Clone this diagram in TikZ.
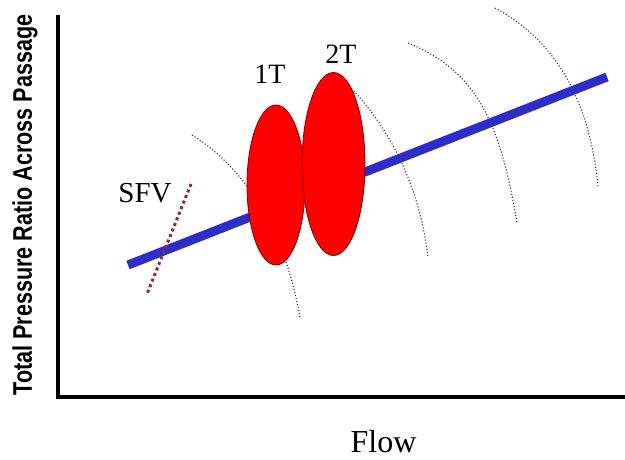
\documentclass[tikz,border=0pt]{standalone}
\usepackage{fontspec}
\usetikzlibrary{shapes.geometric}
\setmainfont{Liberation Serif}
\newfontfamily\labelsans{Liberation Sans}
\definecolor{lineblue}{RGB}{45,45,200}
\definecolor{sfvred}{RGB}{150,40,60}
\definecolor{ellred}{RGB}{255,0,0}
\definecolor{elledge}{RGB}{130,0,0}
\tikzset{
  axis/.style={line width=4pt, line cap=rect},
  flowcurve/.style={line width=1.1pt, dotted, black!80},
  rotor/.style={ellipse, draw=elledge, fill=ellred, line width=0.8pt, inner sep=0pt},
  lbl/.style={font=\fontsize{28}{30}\selectfont, inner sep=0pt, anchor=base}
}
\begin{document}
\begin{tikzpicture}[x=1pt,y=-1pt]
\useasboundingbox (0,0) rectangle (625,459);
% axes
\coordinate (top) at (58,17);
\coordinate (orig) at (58,397);
\coordinate (right) at (627,397);
\draw[axis] (top) -- (orig) -- (right);
% axis labels
\node[rotate=90, inner sep=0pt] (ylab) at (25,205)
  {\resizebox{381pt}{19.5pt}{\labelsans\bfseries\fontsize{20}{22}\selectfont Total Pressure Ratio Across Passage}};
\node[font=\fontsize{32}{34}\selectfont, inner sep=0pt, anchor=base] (xlab) at (383.5,452) {Flow};
% flow curves (dotted)
\coordinate (c1a) at (192,135); \coordinate (c1b) at (300,318);
\coordinate (c2a) at (345,82);  \coordinate (c2b) at (428,257);
\coordinate (c3a) at (408,43);  \coordinate (c3b) at (517,223);
\coordinate (c4a) at (495,8);   \coordinate (c4b) at (598,187);
\draw[flowcurve] (c1a) .. controls (245,168) and (285,230) .. (c1b);
\draw[flowcurve] (c2a) .. controls (392,128) and (420,190) .. (c2b);
\draw[flowcurve] (c3a) .. controls (475,70) and (500,120) .. (c3b);
\draw[flowcurve] (c4a) .. controls (555,40) and (590,100) .. (c4b);
% operating line
\coordinate (la) at (128,265);
\coordinate (lb) at (607,77);
\draw[lineblue, line width=9pt] (la) -- (lb);
% rotors
\node[rotor, minimum width=58pt, minimum height=160pt] (r1) at (276,185) {};
\node[rotor, minimum width=63pt, minimum height=183pt] (r2) at (333.5,164) {};
% SFV line
\coordinate (sa) at (191,184);
\coordinate (sb) at (147,294);
\draw[sfvred, line width=3pt, dash pattern=on 3pt off 3pt] (sa) -- (sb);
% labels
\node[lbl] (t1) at (270,83) {1T};
\node[lbl] (t2) at (341,63) {2T};
\node[lbl, font=\fontsize{29}{31}\selectfont] (sfv) at (145,202) {SFV};
\end{tikzpicture}
\end{document}
